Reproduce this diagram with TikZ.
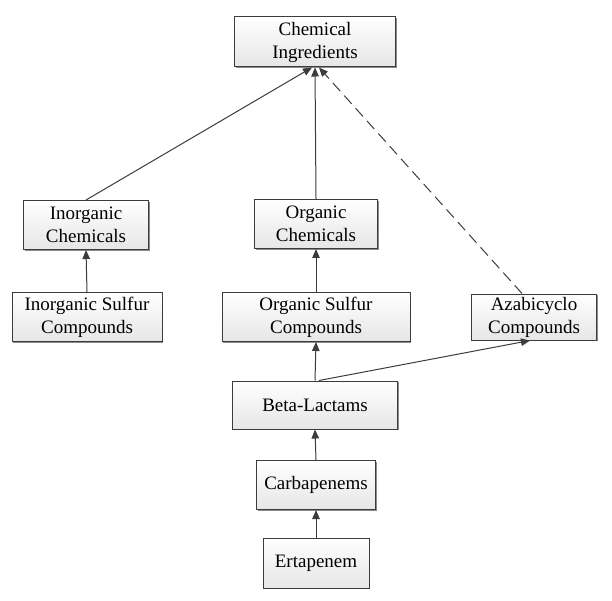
\documentclass[tikz,border=0pt]{standalone}
\usepackage{fontspec}
\setmainfont{Liberation Serif}
\usepackage{xcolor}
\usetikzlibrary{arrows.meta, shadows}
\definecolor{edge}{HTML}{3C3C3C}
\definecolor{boxlow}{HTML}{E6E6E6}
\definecolor{shade}{HTML}{6E6E6E}

\begin{document}
\begin{tikzpicture}[x=1pt, y=-1pt,
    ingbox/.style={draw=edge, line width=1pt, top color=white, bottom color=boxlow,
      align=center, inner sep=2pt, font=\fontsize{19}{23}\selectfont,
      drop shadow={shadow xshift=1.2pt, shadow yshift=-1.2pt, fill=shade, opacity=0.8}},
    link/.style={draw=edge, line width=1pt, -{Triangle[length=9pt, width=7.5pt]}}]
    \useasboundingbox (0,0) rectangle (612,601);
    % boxes, top to bottom
    \node[ingbox, minimum width=161, minimum height=50] (chemIngr) at (315,42) {Chemical\\Ingredients};
    \node[ingbox, minimum width=125, minimum height=49] (inorgChem) at (86,225) {Inorganic\\Chemicals};
    \node[ingbox, minimum width=123, minimum height=49] (orgChem) at (316,224) {Organic\\Chemicals};
    \node[ingbox, minimum width=150, minimum height=49] (inorgSulf) at (87,317) {Inorganic Sulfur\\Compounds};
    \node[ingbox, minimum width=188, minimum height=49] (orgSulf) at (316,317) {Organic Sulfur\\Compounds};
    \node[ingbox, minimum width=125, minimum height=46] (azabic) at (534,317) {Azabicyclo\\Compounds};
    \node[ingbox, minimum width=165, minimum height=48] (betaLact) at (315,405) {Beta-Lactams};
    \node[ingbox, minimum width=119, minimum height=49] (carbap) at (316,485) {Carbapenems};
    \node[ingbox, minimum width=106, minimum height=50] (ertap) at (316,563) {Ertapenem};
    % links upward
    \draw[link] (inorgChem.north) -- ([xshift=-3pt]chemIngr.south);
    \draw[link] (orgChem.north) -- (chemIngr.south);
    \draw[link, dash pattern=on 11pt off 6pt] ([xshift=-12pt]azabic.north) -- ([xshift=4pt]chemIngr.south);
    \draw[link] (inorgSulf.north) -- (inorgChem.south);
    \draw[link] (orgSulf.north) -- (orgChem.south);
    \draw[link] (betaLact.north) -- (orgSulf.south);
    \draw[link] ([xshift=4pt]betaLact.north) -- ([xshift=-4pt]azabic.south);
    \draw[link] (carbap.north) -- (betaLact.south);
    \draw[link] (ertap.north) -- (carbap.south);
\end{tikzpicture}
\end{document}
